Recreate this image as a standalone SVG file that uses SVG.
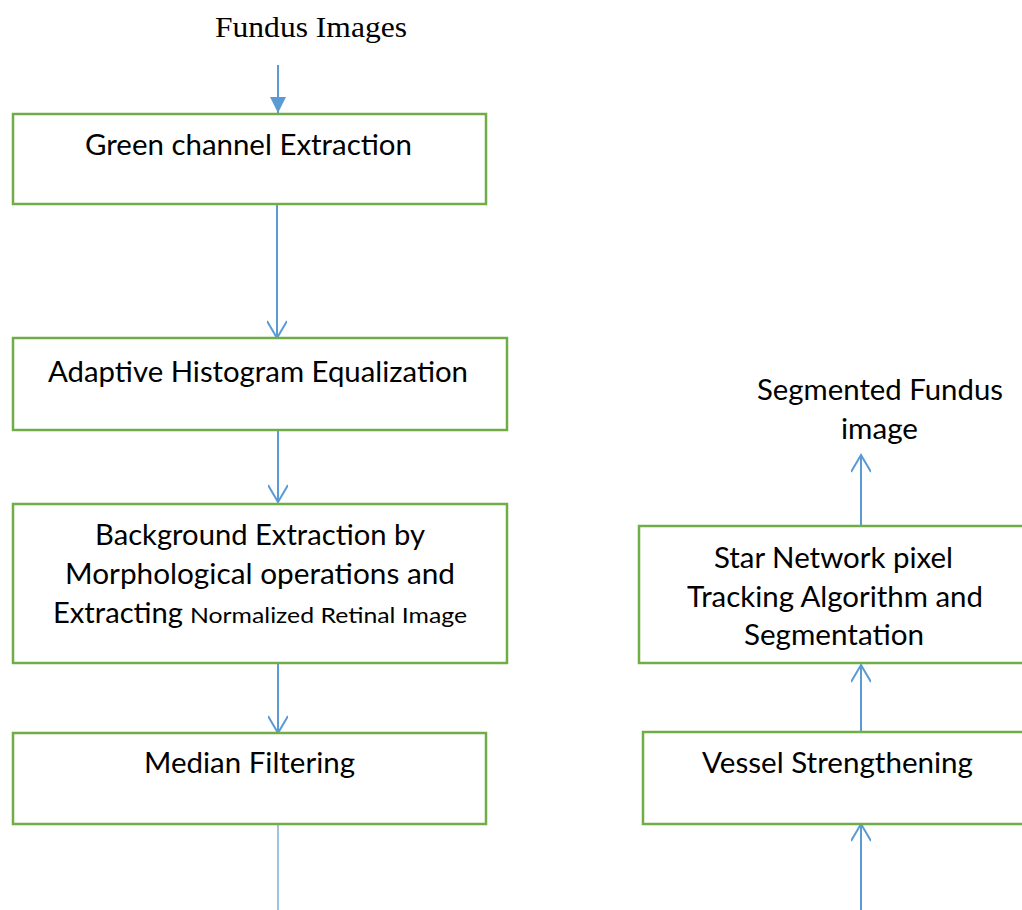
<svg xmlns="http://www.w3.org/2000/svg" width="1022" height="910" viewBox="0 0 1022 910">
<style>
.box{fill:#fff;stroke:#70AD47;stroke-width:2.5}
.t{font-family:Lato,"Liberation Sans",sans-serif;font-size:28px;fill:#000;text-anchor:middle}
.s{font-size:21px}
.ti{font-family:"Liberation Serif","Times New Roman",serif;font-size:30px;fill:#000;text-anchor:middle}
.c{stroke:#5B9BD5;stroke-width:2;fill:none}
.thin{stroke:#5B9BD5;stroke-width:1.2;fill:none}
</style>
<defs>
<marker id="v" viewBox="0 0 20 20" refX="18" refY="10" markerWidth="20" markerHeight="20" markerUnits="userSpaceOnUse" orient="auto">
<path d="M1,0 L18,10 L1,20" fill="none" stroke="#5B9BD5" stroke-width="2"/>
</marker>
<marker id="tri" viewBox="0 0 16 16" refX="16" refY="8" markerWidth="16" markerHeight="16" markerUnits="userSpaceOnUse" orient="auto">
<path d="M0,0 L16,8 L0,16 Z" fill="#5B9BD5"/>
</marker>
</defs>
<g id="connectors">
<line class="c" x1="278" y1="65" x2="278" y2="113" marker-end="url(#tri)"/>
<line class="c" x1="277" y1="204" x2="277" y2="338" marker-end="url(#v)"/>
<line class="c" x1="278" y1="430" x2="278" y2="502" marker-end="url(#v)"/>
<line class="c" x1="278" y1="663" x2="278" y2="733" marker-end="url(#v)"/>
<line class="thin" x1="278" y1="820" x2="278" y2="910"/>
<line class="c" x1="861" y1="910" x2="861" y2="824" marker-end="url(#v)"/>
<line class="c" x1="861" y1="737" x2="861" y2="665" marker-end="url(#v)"/>
<line class="c" x1="861" y1="526" x2="861" y2="455" marker-end="url(#v)"/>
</g>
<g id="input">
<text class="ti" x="311" y="37" textLength="192" lengthAdjust="spacingAndGlyphs">Fundus Images</text>
</g>
<g id="green">
<rect class="box" x="13" y="114" width="473" height="90"/>
<text class="t" x="248.5" y="155" textLength="327" lengthAdjust="spacingAndGlyphs">Green channel Extraction</text>
</g>
<g id="ahe">
<rect class="box" x="13" y="338" width="494" height="92"/>
<text class="t" x="258" y="382" textLength="420" lengthAdjust="spacingAndGlyphs">Adaptive Histogram Equalization</text>
</g>
<g id="background">
<rect class="box" x="13" y="504" width="494" height="159"/>
<text class="t" x="260" y="545" textLength="330" lengthAdjust="spacingAndGlyphs">Background Extraction by</text>
<text class="t" x="260" y="584" textLength="390" lengthAdjust="spacingAndGlyphs">Morphological operations and</text>
<text class="t" x="118" y="623" textLength="130" lengthAdjust="spacingAndGlyphs">Extracting</text>
<text class="t s" x="328.5" y="623" textLength="277" lengthAdjust="spacingAndGlyphs">Normalized Retinal Image</text>
</g>
<g id="median">
<rect class="box" x="13" y="733" width="473" height="91"/>
<text class="t" x="249.5" y="773" textLength="211" lengthAdjust="spacingAndGlyphs">Median Filtering</text>
</g>
<g id="output">
<text class="t" x="880" y="400" textLength="246" lengthAdjust="spacingAndGlyphs">Segmented Fundus</text>
<text class="t" x="879.5" y="439" textLength="77" lengthAdjust="spacingAndGlyphs">image</text>
</g>
<g id="star">
<rect class="box" x="639" y="526" width="400" height="137"/>
<text class="t" x="833.5" y="568" textLength="239" lengthAdjust="spacingAndGlyphs">Star Network pixel</text>
<text class="t" x="835" y="607" textLength="296" lengthAdjust="spacingAndGlyphs">Tracking Algorithm and</text>
<text class="t" x="834" y="645" textLength="180" lengthAdjust="spacingAndGlyphs">Segmentation</text>
</g>
<g id="vessel">
<rect class="box" x="643" y="732" width="400" height="92"/>
<text class="t" x="837.5" y="773" textLength="271" lengthAdjust="spacingAndGlyphs">Vessel Strengthening</text>
</g>
</svg>
